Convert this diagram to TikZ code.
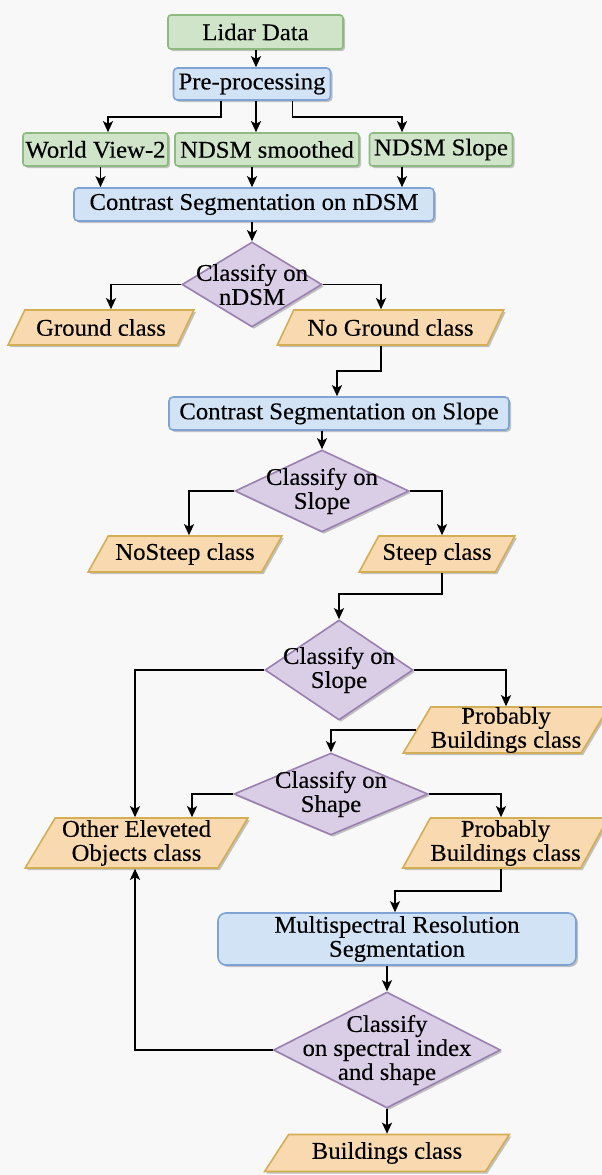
\documentclass[tikz,border=0pt]{standalone}
\usepackage{fontspec}
\setmainfont{Liberation Serif}[FakeStretch=1.03,FakeBold=0.3]
\usetikzlibrary{shapes.geometric,arrows.meta,calc,shadows}
\definecolor{bg}{HTML}{F8F8F8}
\definecolor{gfill}{HTML}{CFE4C9}
\definecolor{gline}{HTML}{8DBB7F}
\definecolor{bfill}{HTML}{D2E3F6}
\definecolor{bline}{HTML}{7EA3D4}
\definecolor{pfill}{HTML}{DACDE6}
\definecolor{pline}{HTML}{9A80B0}
\definecolor{ofill}{HTML}{F9D9B0}
\definecolor{oline}{HTML}{D4AE55}
\tikzset{
  shad/.style={drop shadow={shadow xshift=2pt,shadow yshift=-2pt,opacity=0.22,fill=black}},
  gbox/.style={rectangle,rounded corners=3pt,draw=gline,fill=gfill,line width=1.6pt,inner sep=0pt,shad},
  bbox/.style={rectangle,rounded corners=4pt,draw=bline,fill=bfill,line width=1.6pt,inner sep=0pt,shad,align=center},
  dia/.style={diamond,draw=pline,fill=pfill,line width=1.6pt,inner sep=0pt,shad},
  paraS/.style={trapezium,trapezium left angle=50,trapezium right angle=130,trapezium stretches=true,
    draw=oline,fill=ofill,line width=1.6pt,inner sep=0pt,shad,align=center},
  paraT/.style={paraS,trapezium left angle=59,trapezium right angle=121},
  arr/.style={draw=black,line width=1.8pt,-{Stealth[length=11pt,width=10pt,inset=2.5pt]}},
}
\begin{document}
\begin{tikzpicture}[x=1pt,y=-1pt,font=\fontsize{24}{24}\selectfont]
\fill[bg] (0,0) rectangle (602,1175);
\useasboundingbox (0,0) rectangle (602,1175);

\node[gbox,minimum width=175pt,minimum height=34pt] (lidar) at (255.5,32) {Lidar Data};
\node[bbox,minimum width=157pt,minimum height=32pt] (pre) at (252,84) {Pre-processing};
\node[gbox,minimum width=145pt,minimum height=33pt] (wv) at (95.5,149.5) {World View-2};
\node[gbox,minimum width=184pt,minimum height=33pt] (sm) at (267,149.5) {NDSM smoothed};
\node[gbox,minimum width=143pt,minimum height=33pt] (sl) at (441,149.5) {NDSM Slope};
\node[bbox,minimum width=360pt,minimum height=33pt] (cn) at (254,204.5) {Contrast Segmentation on nDSM};
\node[dia,minimum width=140pt,minimum height=85pt,label={[align=center]center:Classify on\\nDSM}] (d1) at (252,284.5) {};
\node[paraS,minimum width=186pt,minimum height=35pt] (gr) at (101,327.5) {Ground class};
\node[paraS,minimum width=227pt,minimum height=35pt] (ng) at (390.5,327.5) {No Ground class};
\node[bbox,minimum width=340pt,minimum height=33pt] (cs) at (339,413.5) {Contrast Segmentation on Slope};
\node[dia,minimum width=174pt,minimum height=82pt,label={[align=center]center:Classify on\\Slope}] (d2) at (322,491) {};
\node[paraS,minimum width=194pt,minimum height=36pt] (ns) at (185,554) {NoSteep class};
\node[paraS,minimum width=156pt,minimum height=36pt] (st) at (437,554) {Steep class};
\node[dia,minimum width=148pt,minimum height=100pt,label={[align=center]center:Classify on\\Slope}] (d3) at (339,670) {};
\node[paraT,minimum width=190pt,minimum height=46pt] (pb1) at (506,730) {Probably\\Buildings class};
\node[dia,minimum width=194pt,minimum height=82pt,label={[align=center]center:Classify on\\Shape}] (d4) at (331,794) {};
\node[paraT,minimum width=223pt,minimum height=50pt] (ot) at (136.5,843) {Other Eleveted\\Objects class};
\node[paraT,minimum width=193pt,minimum height=50pt] (pb2) at (505.5,843) {Probably\\Buildings class};
\node[bbox,rounded corners=8pt,minimum width=358pt,minimum height=52pt] (ms) at (397,939) {Multispectral Resolution\\Segmentation};
\node[dia,minimum width=227pt,minimum height=116pt,label={[align=center]center:Classify\\on spectral index\\and shape}] (d5) at (387,1050) {};
\node[paraS,minimum width=245pt,minimum height=37pt] (bd) at (387,1153) {Buildings class};

% connectors
\draw[arr] ($(lidar.south)+(0.5,0)$) -- ($(pre.north)+(4,0)$);
\draw[arr] ($(pre.south)+(-31,0)$) |- ($(wv.north)+(12.5,-15)$) -- ($(wv.north)+(12.5,0)$);
\draw[arr] ($(pre.south)+(4,0)$) -- ($(sm.north)+(-11,0)$);
\draw[arr] ($(pre.south)+(40.5,0)$) |- ($(sl.north)+(-39,-15)$) -- ($(sl.north)+(-39,0)$);
\draw[arr] ($(wv.south)+(5,0)$) -- ($(cn.north)+(-153.5,0)$);
\draw[arr] ($(sm.south)+(-15,0)$) -- ($(cn.north)+(-2,0)$);
\draw[arr] ($(sl.south)+(-39,0)$) -- ($(cn.north)+(148,0)$);
\draw[arr] (d1.north |- cn.south) -- (d1.north);
\draw[arr] (d1.west) -| ($(gr.north)+(10,0)$);
\draw[arr] (d1.east) -| ($(ng.north)+(-9.5,0)$);
\draw[arr] ($(ng.south)+(-9.5,0)$) |- ($(cs.north)+(-2,-25)$) -- ($(cs.north)+(-2,0)$);
\draw[arr] (d2.north |- cs.south) -- (d2.north);
\draw[arr] (d2.west) -| ($(ns.north)+(4,0)$);
\draw[arr] (d2.east) -| ($(st.north)+(5,0)$);
\draw[arr] ($(st.south)+(5,0)$) |- ($(d3.north)+(0,-25)$) -- (d3.north);
\draw[arr] (d3.west) -| ($(ot.north)+(-1.5,0)$);
\draw[arr] (d3.east) -| (pb1.north);
\draw[arr] (pb1.west) -| (d4.north);
\draw[arr] (d4.west) -| ($(ot.north)+(55.5,0)$);
\draw[arr] (d4.east) -| ($(pb2.north)+(-4.5,0)$);
\draw[arr] ($(pb2.south)+(-4.5,0)$) |- ($(ms.north)+(-2,-21)$) -- ($(ms.north)+(-2,0)$);
\draw[arr] (d5.north |- ms.south) -- (d5.north);
\draw[arr] (d5.west) -| ($(ot.south)+(-1.5,0)$);
\draw[arr] (d5.south) -- (bd.north);
\end{tikzpicture}
\end{document}
